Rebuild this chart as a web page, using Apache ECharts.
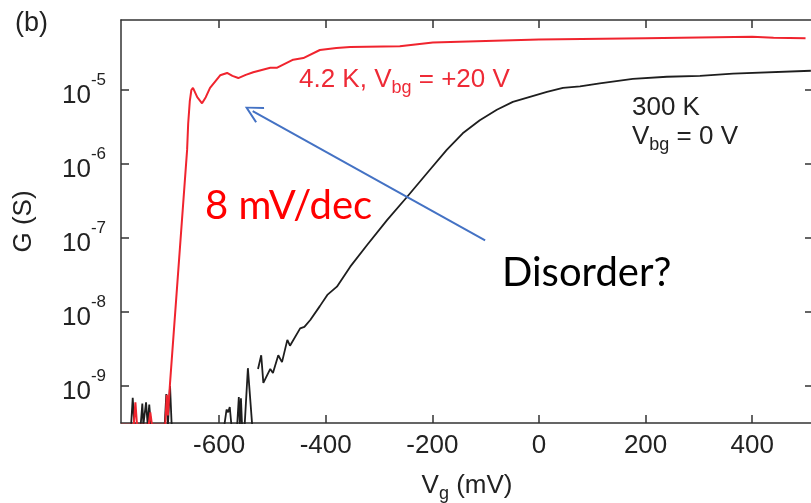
<!DOCTYPE html>
<html>
<head>
<meta charset="utf-8">
<script src="https://cdn.jsdelivr.net/npm/echarts@6/dist/echarts.min.js"></script>
<style>
  html, body { margin: 0; padding: 0; background: #fff; }
  #main { width: 811px; height: 503px; }
</style>
</head>
<body>
<div id="main"></div>
<script>
// 4.2 K, Vbg = +20 V  (Vg in mV, G in S)
const redVg = [-784, -760, -757, -754, -732, -729, -726, -701, -698, -696, -692, -660, -658, -655, -652, -649,
  -641, -632, -625, -617, -598, -585, -575, -564, -550, -536, -504, -491, -461, -442, -411, -380, -354,
  -261, -199, -100, 0, 200, 400, 440, 500]
const redG = [3e-10, 3e-10, 6.0e-10, 3e-10, 3e-10, 4.4e-10, 3e-10, 3e-10, 7.6e-10, 4.0e-10, 1.1e-9, 1.55e-6, 3.5e-6, 7.0e-6, 1.0e-5, 1.07e-5,
  8.0e-6, 6.6e-6, 8.0e-6, 1.07e-5, 1.58e-5, 1.7e-5, 1.55e-5, 1.45e-5, 1.6e-5, 1.74e-5, 2.0e-5, 2.0e-5, 2.57e-5, 2.7e-5, 3.47e-5, 3.7e-5, 3.8e-5,
  3.9e-5, 4.37e-5, 4.6e-5, 4.8e-5, 5.0e-5, 5.25e-5, 5.1e-5, 5.0e-5]

// 300 K, Vbg = 0 V  (null = break in the trace)
const blackVg = [-784, -765, -762, -759, -747, -744, -742, -740, -737, -734, -731, -728, -702, -699, -696, -694, -692, -689,
  -590, -586, -583, -580, -577, -566, -563, -561, -559, -557, -552, -546, -538, -533,
  -527, -521, -517, -504, -499, -489, -482, -472, -467, -448, -440, -429, -411, -397, -379, -354, -322, -285,
  -248, -205, -173, -143, -111, -79, -49, -17, 15, 45, 77, 114, 176, 240, 302, 364, 510]
const blackG = [3e-10, 3e-10, 6.9e-10, 3e-10, 3e-10, 5.8e-10, 3e-10, 3e-10, 6.0e-10, 3e-10, 5.6e-10, 3e-10, 3e-10, 7.8e-10, 3e-10, 3e-10, 1.0e-9, 3e-10,
  3e-10, 4.8e-10, 4.4e-10, 5.2e-10, 3e-10, 3e-10, 7.1e-10, 3e-10, 6.8e-10, 3e-10, 3e-10, 1.74e-9, 3e-10, null,
  1.7e-9, 2.6e-9, 1.1e-9, 1.7e-9, 1.5e-9, 2.6e-9, 2.1e-9, 4.2e-9, 3.5e-9, 6.0e-9, 6.3e-9, 7.8e-9, 1.2e-8, 1.7e-8, 2.2e-8, 4.1e-8, 8.1e-8, 1.74e-7,
  3.55e-7, 8.3e-7, 1.55e-6, 2.6e-6, 3.9e-6, 5.4e-6, 6.9e-6, 8.1e-6, 9.4e-6, 1.07e-5, 1.12e-5, 1.23e-5, 1.41e-5, 1.51e-5, 1.55e-5, 1.66e-5, 1.82e-5]

const xTicks = [-600, -400, -200, 0, 200, 400]
const yTicks = [1e-9, 1e-8, 1e-7, 1e-6, 1e-5]

// "Disorder?" arrow, [Vg, G] of tail and head
const arrowFrom = [-101, 9.3e-8]
const arrowTo = [-537, 5.2e-6]

const xMin = -784, xMax = 514
const yMin = 3.16e-10, yMax = 8.83e-5

const pairs = (xs, ys) => xs.map((x, i) => [x, ys[i] == null ? '-' : ys[i]])

const ink = '#222'
const sans = 'Liberation Sans, Arial, sans-serif'
const axisLine = { show: true, onZero: false, lineStyle: { color: '#333', width: 1.5 } }
const tickStyle = { inside: true, length: 8, lineStyle: { color: '#333', width: 1.5 } }

const supRich = {
  b: { fontSize: 26, lineHeight: 48, fontFamily: sans, color: ink },
  s: { fontSize: 17, lineHeight: 17, fontFamily: sans, color: ink, verticalAlign: 'top' }
}

const option = {
  animation: false,
  grid: { left: 121, top: 20, width: 692, height: 403, outerBoundsMode: 'none', containLabel: false },
  xAxis: [
    {
      type: 'value', min: xMin, max: xMax,
      axisLine,
      axisTick: { ...tickStyle, customValues: xTicks },
      axisLabel: { customValues: xTicks, fontSize: 26, fontFamily: sans, color: ink, margin: 10 },
      splitLine: { show: false },
      name: '{a|V}{s|g}{a| (mV)}',
      nameLocation: 'middle',
      nameGap: 46,
      nameTextStyle: {
        rich: {
          a: { fontSize: 26, lineHeight: 34, fontFamily: sans, color: ink },
          s: { fontSize: 18, lineHeight: 18, fontFamily: sans, color: ink, verticalAlign: 'bottom' }
        }
      }
    },
    {
      type: 'value', position: 'top', min: xMin, max: xMax,
      axisLine,
      axisTick: { ...tickStyle, customValues: xTicks },
      axisLabel: { show: false },
      splitLine: { show: false }
    }
  ],
  yAxis: [
    {
      type: 'log', logBase: 10, min: yMin, max: yMax,
      axisLine,
      axisTick: { ...tickStyle, customValues: yTicks },
      axisLabel: {
        customValues: yTicks,
        margin: 15,
        padding: [12, 0, 0, 0],
        formatter: v => '{b|10}{s|' + Math.round(Math.log10(v)) + '}',
        rich: supRich
      },
      splitLine: { show: false },
      name: 'G (S)',
      nameLocation: 'middle',
      nameRotate: 90,
      nameGap: 84,
      nameTextStyle: { fontSize: 26, fontFamily: sans, color: ink }
    },
    {
      type: 'log', logBase: 10, position: 'right', min: yMin, max: yMax,
      axisLine,
      axisTick: { ...tickStyle, customValues: yTicks },
      axisLabel: { show: false },
      splitLine: { show: false }
    }
  ],
  series: [
    {
      name: '300 K',
      type: 'line',
      data: pairs(blackVg, blackG),
      showSymbol: false,
      clip: true,
      lineStyle: { color: '#1e1e1e', width: 1.8 },
      markLine: {
        silent: true,
        symbol: ['none', 'path://M9,0 L18,16 L16.3,17 L9,3.8 L1.7,17 L0,16 Z'],
        symbolSize: 18,
        label: { show: false },
        lineStyle: { color: '#4472c4', width: 2, type: 'solid' },
        data: [[{ coord: arrowFrom }, { coord: arrowTo }]]
      }
    },
    {
      name: '4.2 K',
      type: 'line',
      data: pairs(redVg, redG),
      showSymbol: false,
      clip: true,
      lineStyle: { color: '#f0242e', width: 2 }
    }
  ],
  graphic: [
    { type: 'text', x: 15, y: 24, style: { text: '(b)', font: '27px ' + sans, fill: ink, verticalAlign: 'middle' } },
    {
      type: 'text', x: 299, y: 80,
      style: {
        text: '{a|4.2 K, V}{s|bg}{a| = +20 V}', verticalAlign: 'middle',
        rich: {
          a: { fontSize: 26, lineHeight: 34, fontFamily: sans, fill: '#ee2a36' },
          s: { fontSize: 18, lineHeight: 18, fontFamily: sans, fill: '#ee2a36', verticalAlign: 'bottom' }
        }
      }
    },
    { type: 'text', x: 632, y: 108, style: { text: '300 K', font: '26px ' + sans, fill: ink, verticalAlign: 'middle' } },
    {
      type: 'text', x: 632, y: 137,
      style: {
        text: '{a|V}{s|bg}{a| = 0 V}', verticalAlign: 'middle',
        rich: {
          a: { fontSize: 26, lineHeight: 34, fontFamily: sans, fill: ink },
          s: { fontSize: 18, lineHeight: 18, fontFamily: sans, fill: ink, verticalAlign: 'bottom' }
        }
      }
    },
    { type: 'text', x: 205, y: 206, style: { text: '8 mV/dec', font: '40px Lato, sans-serif', fill: '#ff0000', verticalAlign: 'middle' } },
    { type: 'text', x: 502, y: 273, style: { text: 'Disorder?', font: '40px Lato, sans-serif', fill: '#000', verticalAlign: 'middle' } }
  ]
}

echarts.init(document.getElementById('main')).setOption(option)
</script>
</body>
</html>
